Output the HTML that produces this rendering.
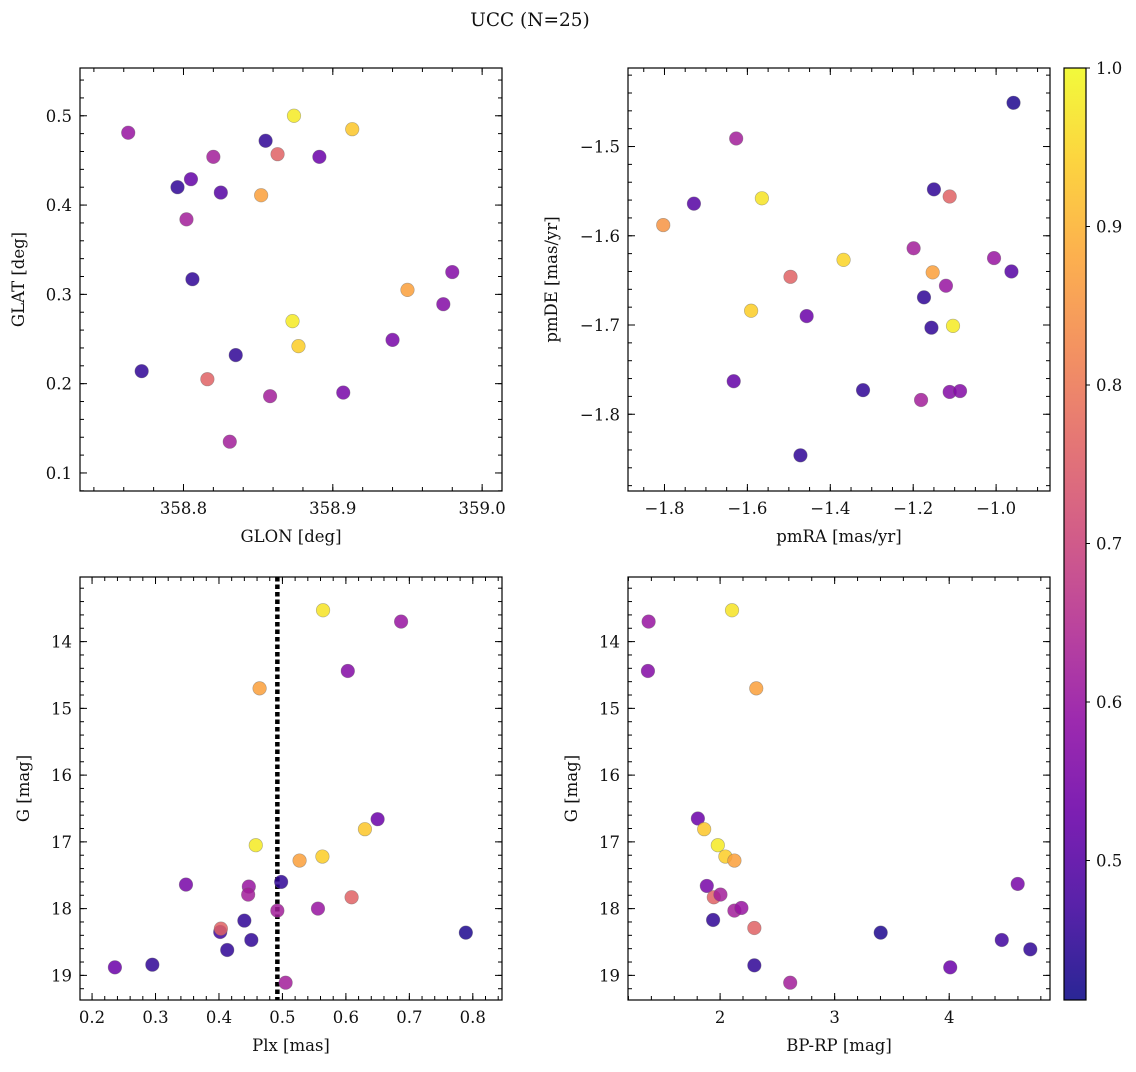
<!DOCTYPE html>
<html><head><meta charset="utf-8"><style>
body{margin:0;background:#fff;}
svg text{font-family:"DejaVu Serif","Liberation Serif",serif;fill:#111;}
</style></head><body>
<svg id="fig" width="1136" height="1067" xmlns="http://www.w3.org/2000/svg">
<text x="530" y="26" font-size="18.5" text-anchor="middle">UCC (N=25)</text>
</svg>
<script>
// Panel 1: GLON vs GLAT
const glonX=[358.763,358.874,358.913,358.855,358.863,358.820,358.891,358.796,358.805,358.825,358.852,358.802,358.806,358.980,358.950,358.974,358.873,358.877,358.835,358.940,358.772,358.816,358.858,358.907,358.831];
const glatY=[0.481,0.500,0.485,0.472,0.457,0.454,0.454,0.420,0.429,0.414,0.411,0.384,0.317,0.325,0.305,0.289,0.270,0.242,0.232,0.249,0.214,0.205,0.186,0.190,0.135];
const glonC=[0.6,0.98,0.93,0.45,0.76,0.62,0.53,0.45,0.52,0.5,0.87,0.62,0.45,0.57,0.87,0.57,0.98,0.94,0.45,0.55,0.45,0.76,0.62,0.55,0.62];
// Panel 2: pmRA vs pmDE
const pmraX=[-0.958,-1.627,-1.729,-1.803,-1.565,-1.150,-1.112,-1.199,-1.005,-0.963,-1.368,-1.153,-1.496,-1.121,-1.174,-1.591,-1.457,-1.156,-1.104,-1.633,-1.321,-1.181,-1.112,-1.087,-1.472];
const pmdeY=[-1.451,-1.491,-1.564,-1.588,-1.558,-1.548,-1.556,-1.614,-1.625,-1.640,-1.627,-1.641,-1.646,-1.656,-1.669,-1.684,-1.690,-1.703,-1.701,-1.763,-1.773,-1.784,-1.775,-1.774,-1.846];
const pmC=[0.43,0.62,0.5,0.85,0.97,0.45,0.76,0.62,0.6,0.5,0.95,0.87,0.76,0.6,0.45,0.94,0.53,0.45,0.98,0.52,0.45,0.62,0.57,0.57,0.45];
// Panel 3: Plx vs G
const plxX=[0.564,0.687,0.603,0.464,0.650,0.630,0.458,0.527,0.563,0.348,0.447,0.498,0.446,0.609,0.556,0.492,0.440,0.402,0.403,0.451,0.413,0.789,0.295,0.236,0.505];
const plxG=[13.53,13.70,14.44,14.70,16.66,16.81,17.05,17.28,17.22,17.64,17.67,17.60,17.79,17.83,18.00,18.03,18.18,18.35,18.30,18.47,18.62,18.36,18.84,18.88,19.11];
const plxC=[0.97,0.6,0.57,0.87,0.53,0.93,0.98,0.87,0.94,0.55,0.6,0.45,0.62,0.76,0.6,0.62,0.45,0.47,0.76,0.45,0.45,0.43,0.45,0.53,0.62];
const plxLine=0.492;
// Panel 4: BP-RP vs G
const bprpX=[1.376,1.370,2.104,2.316,1.806,1.861,1.980,2.046,2.125,1.884,1.945,2.003,2.125,2.186,1.939,2.299,2.299,2.612,3.402,4.009,4.459,4.708,4.598];
const bprpG=[13.70,14.44,13.53,14.70,16.65,16.81,17.05,17.22,17.28,17.66,17.83,17.79,18.03,17.99,18.17,18.29,18.85,19.11,18.36,18.88,18.47,18.61,17.63];
const bprpC=[0.6,0.57,0.97,0.87,0.53,0.93,0.98,0.94,0.87,0.55,0.76,0.62,0.62,0.6,0.45,0.76,0.45,0.62,0.43,0.53,0.47,0.45,0.55];
const cbTicks=[0.5,0.6,0.7,0.8,0.9,1.0];
const vmin=0.412,vmax=1.0;

const NS="http://www.w3.org/2000/svg";
const svg=document.getElementById('fig');
function el(tag,attrs,parent){const e=document.createElementNS(NS,tag);for(const k in attrs)e.setAttribute(k,attrs[k]);(parent||svg).appendChild(e);return e;}
const stops=["#0d0887","#41049d","#6a00a8","#8f0da4","#b12a90","#cc4778","#e16462","#f2844b","#fca636","#fcce25","#f0f921"];
function hex(h){return [parseInt(h.slice(1,3),16),parseInt(h.slice(3,5),16),parseInt(h.slice(5,7),16)];}
function plasma(t){t=Math.max(0,Math.min(1,t));const f=t*10,i=Math.min(9,Math.floor(f)),u=f-i;const a=hex(stops[i]),b=hex(stops[i+1]);return 'rgb('+a.map((v,k)=>Math.round(v+(b[k]-v)*u)).join(',')+')';}
function cmap(v){return plasma((v-vmin)/(vmax-vmin));}

function panel(o){
  const g=el('g',{});
  
  
  const sx=v=>o.x0+(v-o.xd[0])/(o.xd[1]-o.xd[0])*(o.x1-o.x0);
  const fy=v=>o.inv? o.y0+(v-o.yd[0])/(o.yd[1]-o.yd[0])*(o.y1-o.y0) : o.y1-(v-o.yd[0])/(o.yd[1]-o.yd[0])*(o.y1-o.y0);
  const tg=el('g',{stroke:'#000','stroke-width':1},g);
  const eps=1e-9;
  const lo=Math.min(...o.xd),hi=Math.max(...o.xd);
  for(let v=Math.ceil(lo/o.xmin-eps)*o.xmin;v<=hi+eps;v+=o.xmin){const x=sx(v);el('line',{x1:x,x2:x,y1:o.y1,y2:o.y1-4},tg);el('line',{x1:x,x2:x,y1:o.y0,y2:o.y0+4},tg);}
  o.xt.forEach(v=>{const x=sx(v);el('line',{x1:x,x2:x,y1:o.y1,y2:o.y1-7},tg);el('line',{x1:x,x2:x,y1:o.y0,y2:o.y0+7},tg);
    const t=el('text',{x:x,y:o.y1+23,'font-size':16.5,'text-anchor':'middle'},g);t.textContent=o.xf(v);
    });
  const ylo=Math.min(...o.yd),yhi=Math.max(...o.yd);
  for(let v=Math.ceil(ylo/o.ymin-eps)*o.ymin;v<=yhi+eps;v+=o.ymin){const y=fy(v);el('line',{x1:o.x0,x2:o.x0+4,y1:y,y2:y},tg);el('line',{x1:o.x1,x2:o.x1-4,y1:y,y2:y},tg);}
  o.yt.forEach(v=>{const y=fy(v);el('line',{x1:o.x0,x2:o.x0+7,y1:y,y2:y},tg);el('line',{x1:o.x1,x2:o.x1-7,y1:y,y2:y},tg);
    const t=el('text',{x:o.x0-8,y:y+6,'font-size':16.5,'text-anchor':'end'},g);t.textContent=o.yf(v);
    });
  if(o.vline!==undefined){const x=sx(o.vline);const l=el('line',{x1:x,x2:x,y1:o.y0,y2:o.y1,stroke:'#000','stroke-width':4.5,'stroke-dasharray':'4.5 3'},g);
    }
  o.xs.forEach((v,i)=>{const c=el('circle',{cx:sx(v),cy:fy(o.ys[i]),r:6.8,fill:cmap(o.cs[i]),'fill-opacity':0.85,stroke:'#666','stroke-opacity':0.5,'stroke-width':0.6},g);
    });
  const fr=el('rect',{x:o.x0,y:o.y0,width:o.x1-o.x0,height:o.y1-o.y0,fill:'none',stroke:'#000','stroke-width':1.2},g);
  
  const xl=el('text',{x:(o.x0+o.x1)/2,y:o.y1+51,'font-size':16.5,'text-anchor':'middle'},g);xl.textContent=o.xlabel;
  
  const cx=o.x0-o.ylOff,cy=(o.y0+o.y1)/2;
  const yl=el('text',{x:cx,y:cy,'font-size':16.5,'text-anchor':'middle',transform:'rotate(-90 '+cx+' '+cy+')'},g);yl.textContent=o.ylabel;
  
}
const mf=v=>(v<0?'\u2212':'')+Math.abs(v).toFixed(1);
panel({name:'glon-glat-panel',x0:80,x1:502,y0:68,y1:491,xd:[358.7307,359.0133],yd:[0.0798,0.5535],
  xt:[358.8,358.9,359.0],yt:[0.1,0.2,0.3,0.4,0.5],xmin:0.02,ymin:0.02,xf:v=>v.toFixed(1),yf:v=>v.toFixed(1),
  xs:glonX,ys:glatY,cs:glonC,xlabel:'GLON [deg]',ylabel:'GLAT [deg]',ylOff:56});
panel({name:'pm-panel',x0:628,x1:1050,y0:68,y1:491,xd:[-1.888,-0.870],yd:[-1.886,-1.412],
  xt:[-1.8,-1.6,-1.4,-1.2,-1.0],yt:[-1.8,-1.7,-1.6,-1.5],xmin:0.05,ymin:0.02,xf:mf,yf:mf,
  xs:pmraX,ys:pmdeY,cs:pmC,xlabel:'pmRA [mas/yr]',ylabel:'pmDE [mas/yr]',ylOff:71});
panel({name:'plx-g-panel',x0:80,x1:502,y0:577,y1:1000,xd:[0.181,0.846],yd:[13.032,19.369],inv:true,
  xt:[0.2,0.3,0.4,0.5,0.6,0.7,0.8],yt:[14,15,16,17,18,19],xmin:0.02,ymin:0.2,xf:v=>v.toFixed(1),yf:v=>String(v),
  xs:plxX,ys:plxG,cs:plxC,vline:plxLine,xlabel:'Plx [mas]',ylabel:'G [mag]',ylOff:51});
panel({name:'cmd-panel',x0:628,x1:1050,y0:577,y1:1000,xd:[1.196,4.880],yd:[13.032,19.369],inv:true,
  xt:[2,3,4],yt:[14,15,16,17,18,19],xmin:0.2,ymin:0.2,xf:v=>String(v),yf:v=>String(v),
  xs:bprpX,ys:bprpG,cs:bprpC,xlabel:'BP-RP [mag]',ylabel:'G [mag]',ylOff:51});

// colorbar
const cb=el('g',{});


const defs=el('defs',{},cb);
const lg=el('linearGradient',{id:'pg',x1:0,y1:1,x2:0,y2:0},defs);
for(let i=0;i<=20;i++){el('stop',{offset:(i/20),'stop-color':plasma(i/20),'stop-opacity':0.88},lg);}
const cbx=1064,cbw=22,cby0=68,cby1=1000;
el('rect',{x:cbx,y:cby0,width:cbw,height:cby1-cby0,fill:'url(#pg)',stroke:'#000','stroke-width':1.2},cb);
const cys=v=>cby1-(v-vmin)/(vmax-vmin)*(cby1-cby0);
cbTicks.forEach(v=>{const y=cys(v);el('line',{x1:cbx+cbw,x2:cbx+cbw+4,y1:y,y2:y,stroke:'#000'},cb);
  const t=el('text',{x:cbx+cbw+10,y:y+6,'font-size':16.5},cb);t.textContent=v.toFixed(1);
  });
</script>
</body></html>
